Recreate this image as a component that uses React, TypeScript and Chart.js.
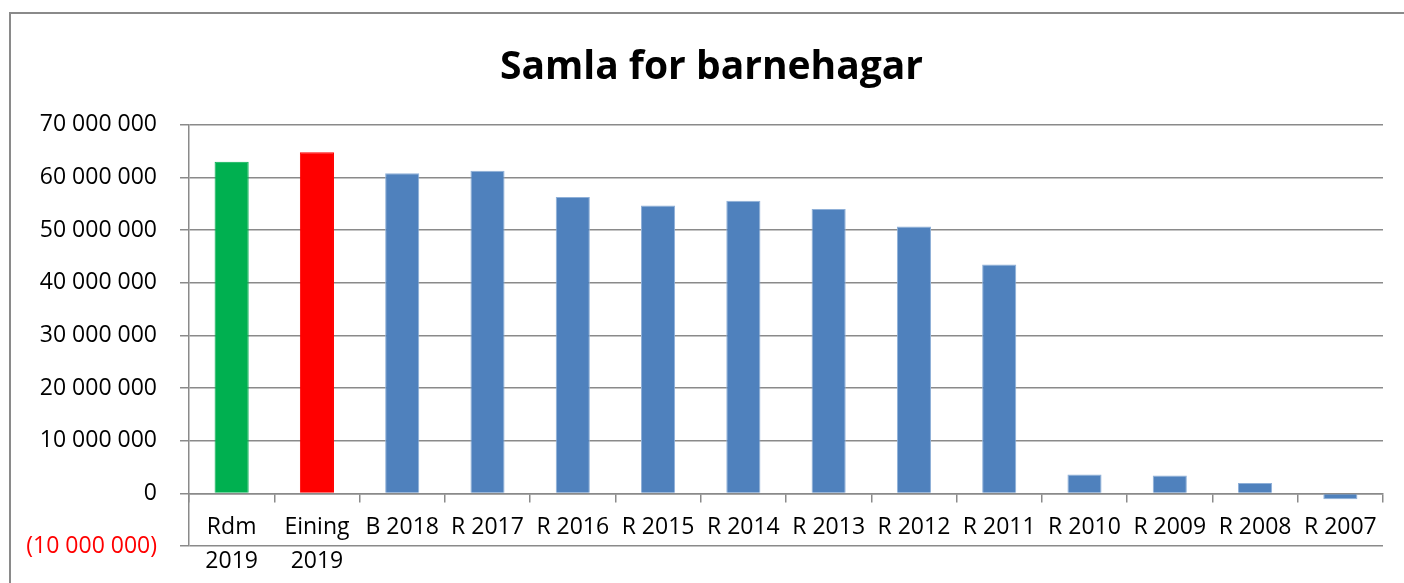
import React, { useEffect, useRef } from "react";
import { Chart, registerables } from "chart.js";

Chart.register(...registerables);

const chartTitle = "Samla for barnehagar";
const categories: (string | string[])[] = [
  ["Rdm", "2019"],
  ["Eining", "2019"],
  "B 2018",
  "R 2017",
  "R 2016",
  "R 2015",
  "R 2014",
  "R 2013",
  "R 2012",
  "R 2011",
  "R 2010",
  "R 2009",
  "R 2008",
  "R 2007",
];
const values = [
  63000000, 64800000, 60800000, 61300000, 56300000, 54700000, 55600000,
  54000000, 50700000, 43500000, 3600000, 3400000, 2000000, -1100000,
];
const barColors = [
  "#00B050", "#FF0000", "#4F81BD", "#4F81BD", "#4F81BD", "#4F81BD", "#4F81BD",
  "#4F81BD", "#4F81BD", "#4F81BD", "#4F81BD", "#4F81BD", "#4F81BD", "#4F81BD",
];
const barBorderColors = [
  "#00B050", "#FF0000", "#8fb0d8", "#8fb0d8", "#8fb0d8", "#8fb0d8", "#8fb0d8",
  "#8fb0d8", "#8fb0d8", "#8fb0d8", "#8fb0d8", "#8fb0d8", "#8fb0d8", "#8fb0d8",
];
const yMin = -10000000;
const yMax = 70000000;
const yStep = 10000000;

function fmt(v: number): string {
  const s = Math.abs(Math.round(v))
    .toString()
    .replace(/\B(?=(\d{3})+(?!\d))/g, " ");
  return v < 0 ? `(${s})` : s;
}

const GRID = "#8a8a8a";
const FONT = "'Open Sans', 'DejaVu Sans', sans-serif";

// shift the title's box so it is centred like the reference
const titleShift = {
  id: "titleShift",
  afterLayout(chart: any) {
    if (chart.titleBlock) {
      chart.titleBlock.left += 40;
    }
  },
};

export default function App() {
  const ref = useRef<HTMLCanvasElement | null>(null);

  useEffect(() => {
    if (!ref.current) return;
    const chart = new Chart(ref.current, {
      type: "bar",
      data: {
        labels: categories,
        datasets: [
          {
            data: values,
            backgroundColor: barColors,
            borderColor: barBorderColors,
            borderWidth: 1,
            barPercentage: 0.4,
            categoryPercentage: 1,
          },
        ],
      },
      plugins: [titleShift],
      options: {
        responsive: false,
        animation: false,
        layout: { padding: { left: 0, right: 21, top: 0, bottom: 0 } },
        plugins: {
          legend: { display: false },
          tooltip: { enabled: false },
          title: {
            display: true,
            text: chartTitle,
            color: "#000",
            font: { family: FONT, size: 39, weight: "bold" },
            padding: { top: 44, bottom: 34 },
          },
        },
        scales: {
          x: {
            position: { y: 0 } as any,
            grid: {
              drawOnChartArea: false,
              drawTicks: true,
              tickLength: 8,
              color: GRID,
              lineWidth: 1.5,
            },
            border: { display: true, color: GRID, width: 1.5 },
            ticks: {
              color: "#000",
              font: { family: FONT, size: 23, lineHeight: 1.48 },
              padding: 9,
              autoSkip: false,
              maxRotation: 0,
              minRotation: 0,
            },
            afterFit: (scale: any) => {
              scale.height = 38;
            },
          },
          y: {
            min: yMin,
            max: yMax,
            grid: {
              color: GRID,
              lineWidth: 1.5,
              drawTicks: true,
              tickLength: 9,
            },
            border: { display: true, color: GRID, width: 1.5 },
            ticks: {
              stepSize: yStep,
              padding: 23,
              font: { family: FONT, size: 23 },
              color: (ctx: any) => (ctx.tick && ctx.tick.value < 0 ? "#FF0000" : "#000"),
              callback: (v: any) => fmt(Number(v)),
            },
            afterFit: (scale: any) => {
              scale.width = 189;
            },
          },
        },
      },
    });
    return () => chart.destroy();
  }, []);

  return (
    <div
      style={{
        position: "fixed",
        left: 0,
        top: 0,
        width: 1404,
        height: 583,
        overflow: "hidden",
        background: "#fff",
      }}
    >
      <div
        style={{
          position: "absolute",
          left: 9,
          top: 12,
          width: 1420,
          height: 620,
          border: "2px solid #8a8a8a",
          boxSizing: "border-box",
        }}
      />
      <canvas
        ref={ref}
        width={1404}
        height={583}
        style={{ position: "absolute", left: 0, top: 0, width: 1404, height: 583 }}
      />
    </div>
  );
}
